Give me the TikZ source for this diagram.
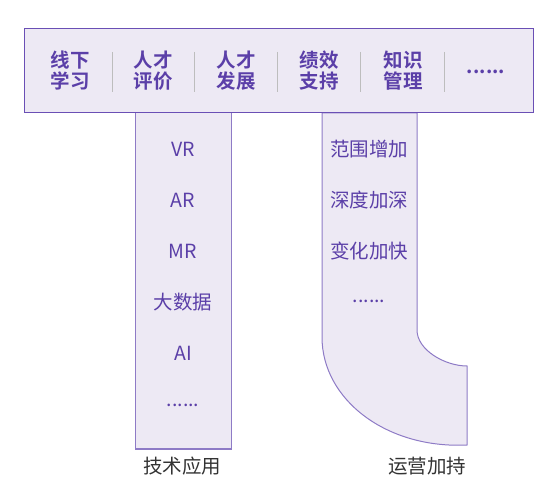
\documentclass[tikz,border=0pt]{standalone}
\usepackage{fontspec}
\setmainfont{Noto Sans CJK SC}
\newfontfamily\cjkbold{Noto Sans CJK SC Bold}
\definecolor{pfill}{HTML}{EDE9F4}
\definecolor{pborder}{HTML}{6A4FB5}
\definecolor{pcol}{HTML}{8E7BC6}
\definecolor{ptext}{HTML}{5B3FA8}
\definecolor{sepgray}{HTML}{BDBDBD}
\definecolor{captext}{HTML}{333333}
\tikzset{
  toplabel/.style={text=ptext, font=\cjkbold\fontsize{19.5}{23}\selectfont, align=center, inner sep=0pt},
  collabel/.style={text=ptext, font=\fontsize{19.5}{23}\selectfont, inner sep=0pt},
  caplabel/.style={text=captext, font=\fontsize{19.5}{23}\selectfont, inner sep=0pt},
  sepline/.style={draw=sepgray, line width=0.8pt},
}
\begin{document}
\begin{tikzpicture}[x=1pt,y=-1pt]
\useasboundingbox (0,0) rectangle (558,492);
% left column
\draw[pcol, fill=pfill, line width=1pt] (135,113) rectangle (231,449);
% right curved column
\draw[pcol, fill=pfill, line width=1pt] (322,113) -- (417,113) -- (417,330)
  .. controls (417,350) and (445,366) .. (467,366) -- (467,445)
  .. controls (387,449) and (322,400) .. (322,337) -- cycle;
% top bar
\draw[pborder, fill=pfill, line width=1pt] (24,29) rectangle (533,113);
\node[toplabel] (t1) at (70,71) {线下\\[-2pt]学习};
\node[toplabel] (t2) at (153,71) {人才\\[-2pt]评价};
\node[toplabel] (t3) at (236,71) {人才\\[-2pt]发展};
\node[toplabel] (t4) at (319,71) {绩效\\[-2pt]支持};
\node[toplabel] (t5) at (403,71) {知识\\[-2pt]管理};
\node[toplabel] (t6) at (486,72) {......};
\foreach \x in {112,194,277,360,444} \draw[sepline] (\x,52) -- (\x,92);
% left column labels
\node[collabel] (l1) at (183,149) {VR};
\node[collabel] (l2) at (183,200) {AR};
\node[collabel] (l3) at (183,251) {MR};
\node[collabel] (l4) at (183,302) {大数据};
\node[collabel] (l5) at (183,353) {AI};
\node[collabel] (l6) at (183,405) {......};
% right column labels
\node[collabel] (r1) at (369,149) {范围增加};
\node[collabel] (r2) at (369,200) {深度加深};
\node[collabel] (r3) at (369,251) {变化加快};
\node[collabel] (r4) at (369,301) {......};
% captions
\node[caplabel] (c1) at (182,466) {技术应用};
\node[caplabel] (c2) at (427,466) {运营加持};
\end{tikzpicture}
\end{document}
